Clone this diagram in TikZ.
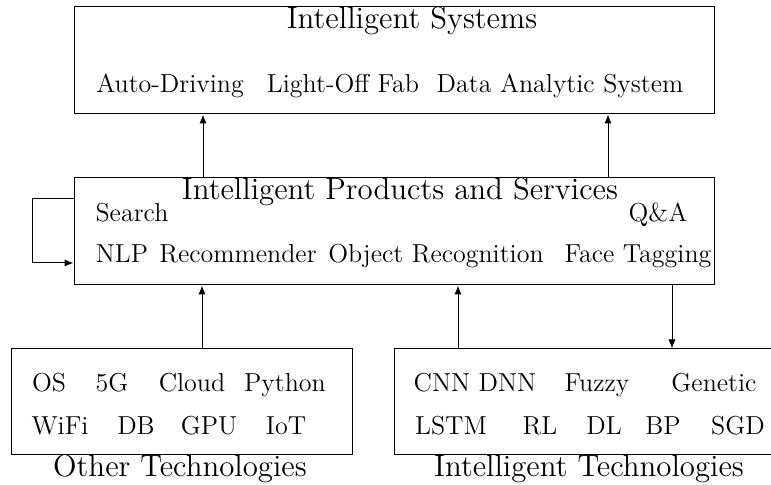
\documentclass[tikz,border=0pt]{standalone}
\usetikzlibrary{arrows.meta}
\newcommand\ttltxt[1]{\scalebox{1.035}{#1}}
\begin{document}
\begin{tikzpicture}[x=0.5pt,y=-0.5pt,
  box/.style={draw,rectangle,inner sep=0pt,line width=0.5pt},
  item/.style={anchor=base,inner sep=0pt,font=\fontsize{13}{15}\selectfont},
  ttl/.style={anchor=base,inner sep=0pt,font=\fontsize{14.9}{18}\selectfont},
  arr/.style={line width=0.5pt,-{Latex[length=4.5pt,width=3.6pt]}}]
\useasboundingbox (0,0) rectangle (771,485);
% boxes
\node[box,minimum width=320pt,minimum height=53.5pt] (top) at (394,60.5) {};
\node[box,minimum width=320pt,minimum height=53.5pt] (mid) at (394,231.5) {};
\node[box,minimum width=170.5pt,minimum height=53pt] (ot) at (181.5,402) {};
\node[box,minimum width=190pt,minimum height=53pt] (it) at (584,402) {};
% top texts
\node[ttl] (t0) at (412,29) {\ttltxt{Intelligent Systems}};
\node[item] (t1) at (170,93) {Auto-Driving};
\node[item] (t2) at (343,93) {Light-Off Fab};
\node[item] (t3) at (560,93) {Data Analytic System};
% middle texts
\node[ttl] (m0) at (400,200) {\ttltxt{Intelligent Products and Services}};
\node[item] (m1) at (132,222) {Search};
\node[item] (m2) at (658,222) {Q\&A};
\node[item] (m3) at (122,263) {NLP};
\node[item] (m4) at (238,263) {Recommender};
\node[item] (m5) at (436,263) {Object Recognition};
\node[item] (m6) at (638,263) {Face Tagging};
% other technologies
\node[item] (o1) at (49,392) {OS};
\node[item] (o2) at (112,392) {5G};
\node[item] (o3) at (192,392) {Cloud};
\node[item] (o4) at (285,392) {Python};
\node[item] (o5) at (60,435) {WiFi};
\node[item] (o6) at (136,435) {DB};
\node[item] (o7) at (209,435) {GPU};
\node[item] (o8) at (286,435) {IoT};
\node[ttl] (o0) at (180,477) {\ttltxt{Other Technologies}};
% intelligent technologies
\node[item] (i1) at (475,392) {CNN DNN};
\node[item] (i2) at (597,392) {Fuzzy};
\node[item] (i3) at (714,392) {Genetic};
\node[item] (i4) at (451,435) {LSTM};
\node[item] (i5) at (540,435) {RL};
\node[item] (i6) at (604,435) {DL};
\node[item] (i7) at (663,435) {BP};
\node[item] (i8) at (738,435) {SGD};
\node[ttl] (i0) at (589,477) {\ttltxt{Intelligent Technologies}};
% connector coordinates
\coordinate (a1) at (203,0);
\coordinate (a2) at (608,0);
\coordinate (a3) at (202,0);
\coordinate (a4) at (458,0);
\coordinate (a5) at (672,0);
\coordinate (lp1) at (32,199);
\coordinate (lp2) at (32,263);
% connectors
\draw[arr] (mid.north -| a1) -- (top.south -| a1);
\draw[arr] (mid.north -| a2) -- (top.south -| a2);
\draw[arr] (ot.north -| a3) -- (mid.south -| a3);
\draw[arr] (it.north -| a4) -- (mid.south -| a4);
\draw[arr] (mid.south -| a5) -- (it.north -| a5);
\draw[arr] (mid.west |- lp1) -- (lp1) -- (lp2) -- (mid.west |- lp2);
\end{tikzpicture}
\end{document}
